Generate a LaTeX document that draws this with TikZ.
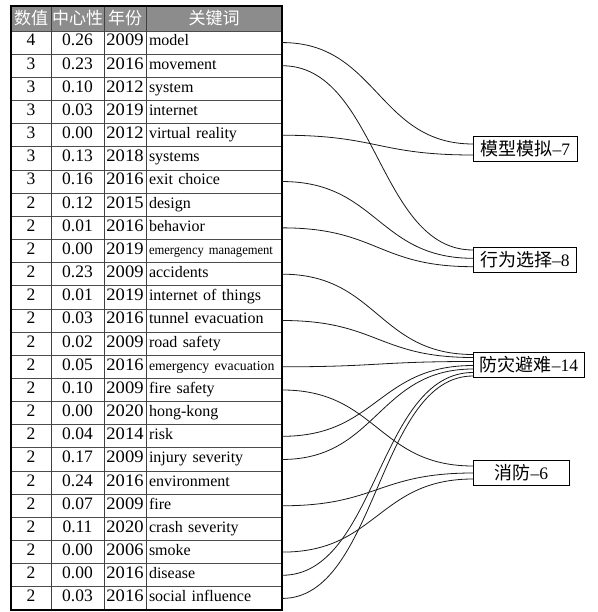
\documentclass[tikz,border=0pt]{standalone}
\usepackage{fontspec}
\usepackage{graphicx}
\setmainfont{Liberation Serif}
\newfontfamily\cjk{Noto Sans CJK SC}
\definecolor{hdrgray}{HTML}{8C8C8C}
\newcommand\kwsqueeze[1]{\scalebox{0.93}[1]{\fontsize{13.5}{16}\selectfont #1}}
\newcommand\kwsmall[1]{{\fontsize{13.8}{16}\selectfont #1}}
\begin{document}
\begin{tikzpicture}[x=1pt,y=-1pt,
  numcell/.style={inner sep=0pt, text height=0.68em, text depth=0pt, font=\fontsize{17.5}{20}\selectfont},
  kwcell/.style={inner xsep=3pt, inner ysep=0pt, text width=130pt, minimum height=23pt, align=left,
                 text height=0.68em, text depth=0pt, font=\fontsize{16}{18}\selectfont},
  hdr/.style={text=white, inner sep=0pt, font=\cjk\fontsize{17}{19}\selectfont},
  topic/.style={draw=black, line width=0.9pt, fill=white, anchor=west, minimum height=25pt,
                inner sep=2pt, font=\fontsize{17.5}{20}\selectfont},
  rowline/.style={draw=black!70, line width=0.8pt},
  colline/.style={draw=black!75, line width=0.9pt},
  outer/.style={draw=black, line width=1.5pt},
  link/.style={draw=black!90, line width=0.8pt}
]
\useasboundingbox (0,0) rectangle (597,612);
\fill[white] (0,0) rectangle (597,612);

% table
\fill[hdrgray] (11,6) rectangle (282,31);
\draw[rowline] (11,31) -- (282,31);
\foreach \k in {1,...,24} \draw[rowline] (11,{31+23.16*\k}) -- (282,{31+23.16*\k});
\foreach \x in {51,104,146} \draw[colline] (\x,6) -- (\x,610);
\draw[outer] (11,6) rectangle (282,610);

\node[hdr] (h1) at (31,18.5) {数值};
\node[hdr] (h2) at (77.5,18.5) {中心性};
\node[hdr] (h3) at (125,18.5) {年份};
\node[hdr] (h4) at (214,18.5) {关键词};

\foreach \n/\c/\yr/\kw [count=\i] in {
  4/0.26/2009/model,
  3/0.23/2016/movement,
  3/0.10/2012/system,
  3/0.03/2019/internet,
  3/0.00/2012/virtual reality,
  3/0.13/2018/systems,
  3/0.16/2016/exit choice,
  2/0.12/2015/design,
  2/0.01/2016/behavior,
  2/0.00/2019/{\kwsqueeze{emergency management}},
  2/0.23/2009/accidents,
  2/0.01/2019/internet of things,
  2/0.03/2016/tunnel evacuation,
  2/0.02/2009/road safety,
  2/0.05/2016/{\kwsmall{emergency evacuation}},
  2/0.10/2009/fire safety,
  2/0.00/2020/hong-kong,
  2/0.04/2014/risk,
  2/0.17/2009/injury severity,
  2/0.24/2016/environment,
  2/0.07/2009/fire,
  2/0.11/2020/crash severity,
  2/0.00/2006/smoke,
  2/0.00/2016/disease,
  2/0.03/2016/social influence}
{
  \pgfmathsetmacro\yy{31+23.16*(\i-0.5)}
  \node[numcell] (n\i) at (31,\yy) {\n};
  \node[numcell] (c\i) at (77.5,\yy) {\c};
  \node[numcell] (y\i) at (125,\yy) {\scalebox{1.06}[1]{\yr}};
  \node[kwcell] (kw\i) at (214,\yy) {\kw};
}

% topic boxes
\node[topic, minimum width=104pt] (m7) at (473,148.5) {{\cjk\fontsize{18}{20}\selectfont 模型模拟}--7};
\node[topic, minimum width=103pt] (b8) at (473,260) {{\cjk\fontsize{18}{20}\selectfont 行为选择}--8};
\node[topic, minimum width=111pt] (f14) at (473,364.5) {{\cjk\fontsize{18}{20}\selectfont 防灾避难}--14};
\node[topic, minimum width=96pt] (x6) at (473,473) {{\cjk\fontsize{18}{20}\selectfont 消防}--6};

% links
\foreach \s/\t/\d in {
  1/m7/4.5, 5/m7/-6.5,
  2/b8/10, 7/b8/1.7, 9/b8/-6.7,
  11/f14/10, 13/f14/7, 15/f14/3, 18/f14/-1, 19/f14/-4.5, 24/f14/-8, 25/f14/-11.5,
  16/x6/7, 21/x6/0, 23/x6/-6}
{
  \draw[link] (kw\s.east) .. controls +(95,0) and +(-95,0) .. ([yshift=\d pt]\t.west);
}
\end{tikzpicture}
\end{document}
